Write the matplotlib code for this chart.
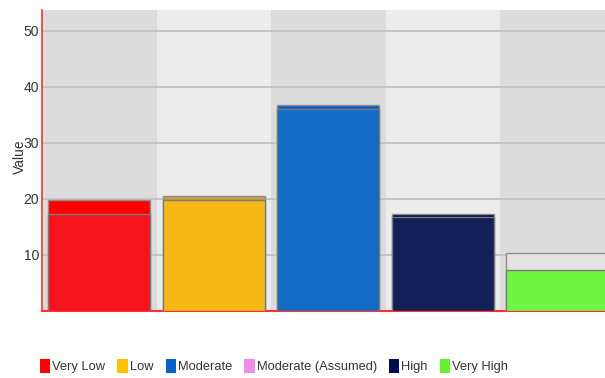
import numpy as np
import matplotlib
matplotlib.use("Agg")
import matplotlib.pyplot as plt
from matplotlib.patches import Patch

plt.rcParams["font.family"] = ["Liberation Sans", "DejaVu Sans"]

# data
categories = ["Very Low", "Low", "Moderate", "High", "Very High"]
outer_vals = [19.8, 20.5, 36.8, 17.4, 10.3]
inner_vals = [17.3, 19.9, 36.0, 16.7, 7.4]
outer_colors = ["#ff0000", "#c8a040", "#0a5ec8", "#000c48", "#e4e4e4"]
inner_colors = ["#f5141e", "#f7b916", "#146bc4", "#121f58", "#70f542"]

legend_labels = ["Very Low", "Low", "Moderate", "Moderate (Assumed)", "High", "Very High"]
legend_colors = ["#ff0000", "#ffc000", "#0064c8", "#f08ce8", "#000c50", "#66f033"]

fig = plt.figure(figsize=(6.05, 3.78), dpi=100)
# plot area runs past the right edge of the figure, like the reference
ax = fig.add_axes([42 / 605, 1 - 311 / 378, 572.5 / 605, 301 / 378])

x = np.arange(len(categories))
for i in x:
    ax.axvspan(i - 0.5, i + 0.5, color="#dcdcdc" if i % 2 == 0 else "#ececec",
               zorder=0, lw=0)

ax.set_ylim(0, 53.75)
ax.set_xlim(-0.5, len(categories) - 0.5)
ax.set_yticks([10, 20, 30, 40, 50])
ax.yaxis.grid(True, color="#c4c4c4", linewidth=1.4, zorder=1)
ax.set_axisbelow(True)

w = 0.89
ax.bar(x, outer_vals, width=w, color=outer_colors, edgecolor="#8c8c8c",
       linewidth=1.0, zorder=2)
ax.bar(x, inner_vals, width=w, color=inner_colors, edgecolor="#7a7a7a",
       linewidth=1.0, zorder=3)

ax.set_xticks([])
ax.tick_params(axis="y", length=0, pad=2, labelsize=10, labelcolor="#333333")
for s in ["top", "right"]:
    ax.spines[s].set_visible(False)
ax.spines["left"].set_color("#ff3030")
ax.spines["bottom"].set_color("#ff3030")
ax.spines["left"].set_linewidth(1.2)
ax.spines["bottom"].set_linewidth(1.5)

fig.text(20 / 605, 1 - 157 / 378, "Value", rotation=90, ha="center", va="center",
         fontsize=10, color="#333333")

handles = [Patch(facecolor=c, edgecolor="none") for c in legend_colors]
fig.legend(handles, legend_labels, loc="center", ncol=6,
           bbox_to_anchor=(0.453, 1 - 366 / 378), frameon=False, fontsize=9.3,
           handlelength=0.8, handleheight=1.4, handletextpad=0.15,
           columnspacing=0.95, labelcolor="#333333")

fig.savefig("out.png", dpi=100)
